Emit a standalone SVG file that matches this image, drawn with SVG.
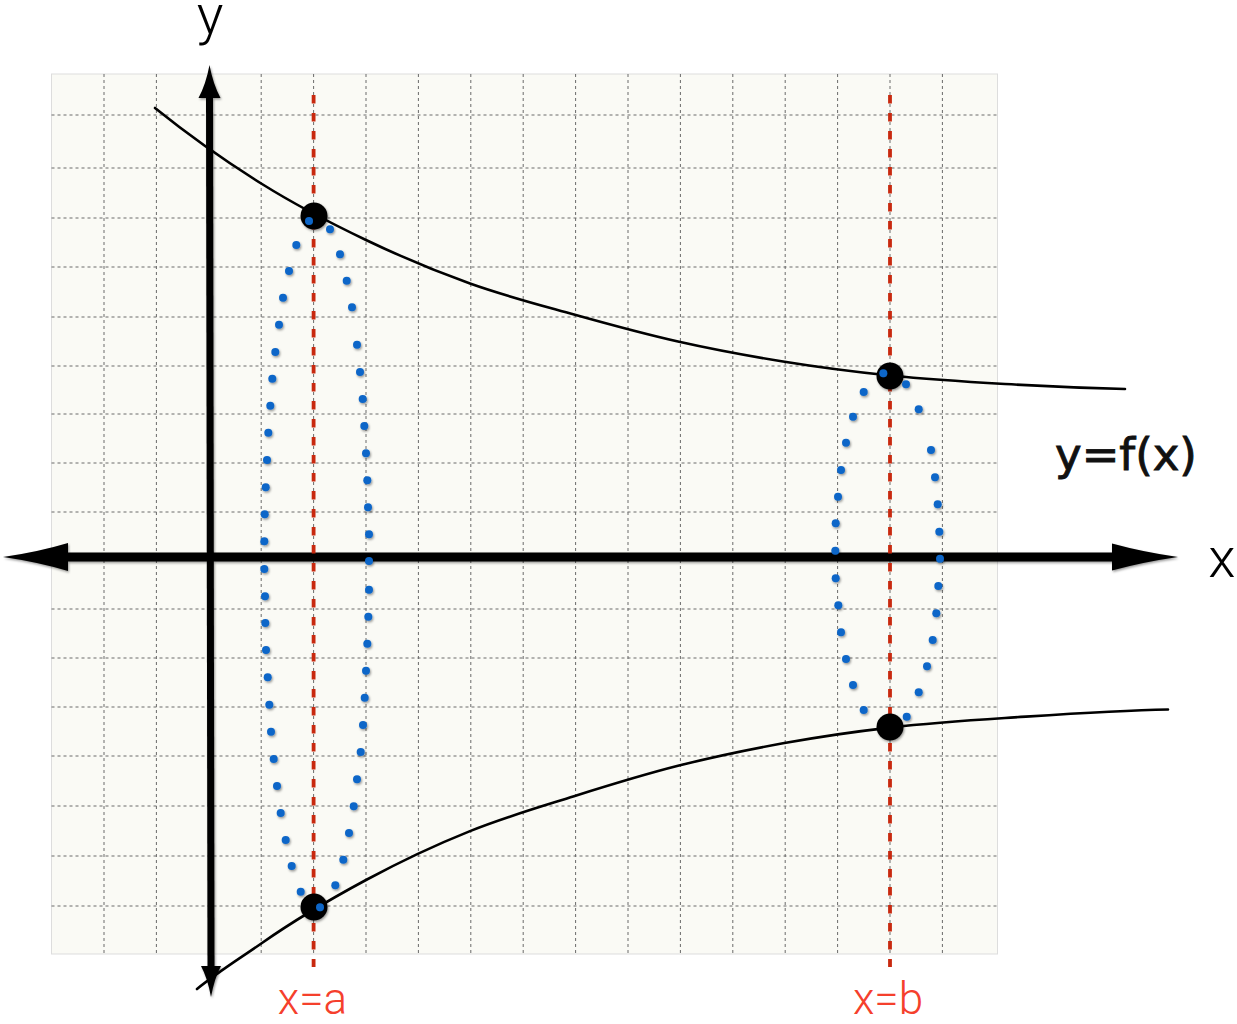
<svg xmlns="http://www.w3.org/2000/svg" width="1237" height="1024" viewBox="0 0 1237 1024">
  <defs>
    <filter id="shadow" x="-20%" y="-20%" width="140%" height="140%">
      <feDropShadow dx="1" dy="1.5" stdDeviation="1.2" flood-color="#000" flood-opacity="0.4"/>
    </filter>
    <style>
      .grid line { stroke: #6a6a6a; stroke-width: 1; stroke-dasharray: 3 3; }
      .red { stroke: #c8290f; stroke-width: 3.8; stroke-dasharray: 8.5 9.5; fill: none; }
      .curve { fill: none; stroke: #000; stroke-width: 2.6; stroke-linecap: round; }
      .axis { stroke: #000; fill: none; }
      .head { fill: #000; }
      .pt { fill: #000; }
      .bd { fill: #0c66c8; }
      .lbl { font-family: Roboto, "Open Sans", "Liberation Sans", sans-serif; font-weight: 300; }
      .redlbl { fill: #f5402c; font-size: 44px; text-anchor: middle; }
      .fx { font-family: "DejaVu Sans", "Liberation Sans", sans-serif; font-size: 45px; fill: #111; stroke: #111; stroke-width: 0.9; }
    </style>
  </defs>

  <rect width="1237" height="1024" fill="#ffffff"/>

  <g id="grid-paper">
    <rect x="51.5" y="74" width="946" height="880" fill="#fafaf5" stroke="#dddddd" stroke-width="1"/>
    <g class="grid">
      <line x1="104" y1="74" x2="104" y2="954"/>
      <line x1="156.4" y1="74" x2="156.4" y2="954"/>
      <line x1="208.8" y1="74" x2="208.8" y2="954"/>
      <line x1="261.2" y1="74" x2="261.2" y2="954"/>
      <line x1="313.6" y1="74" x2="313.6" y2="954"/>
      <line x1="366" y1="74" x2="366" y2="954"/>
      <line x1="418.4" y1="74" x2="418.4" y2="954"/>
      <line x1="470.8" y1="74" x2="470.8" y2="954"/>
      <line x1="523.2" y1="74" x2="523.2" y2="954"/>
      <line x1="575.6" y1="74" x2="575.6" y2="954"/>
      <line x1="628" y1="74" x2="628" y2="954"/>
      <line x1="680.4" y1="74" x2="680.4" y2="954"/>
      <line x1="732.8" y1="74" x2="732.8" y2="954"/>
      <line x1="785.2" y1="74" x2="785.2" y2="954"/>
      <line x1="837.6" y1="74" x2="837.6" y2="954"/>
      <line x1="890" y1="74" x2="890" y2="954"/>
      <line x1="942.4" y1="74" x2="942.4" y2="954"/>
      <line x1="51.5" y1="115" x2="997.5" y2="115"/>
      <line x1="51.5" y1="168" x2="997.5" y2="168"/>
      <line x1="51.5" y1="218" x2="997.5" y2="218"/>
      <line x1="51.5" y1="267" x2="997.5" y2="267"/>
      <line x1="51.5" y1="317" x2="997.5" y2="317"/>
      <line x1="51.5" y1="366" x2="997.5" y2="366"/>
      <line x1="51.5" y1="414" x2="997.5" y2="414"/>
      <line x1="51.5" y1="463" x2="997.5" y2="463"/>
      <line x1="51.5" y1="512" x2="997.5" y2="512"/>
      <line x1="51.5" y1="560" x2="997.5" y2="560"/>
      <line x1="51.5" y1="609" x2="997.5" y2="609"/>
      <line x1="51.5" y1="658" x2="997.5" y2="658"/>
      <line x1="51.5" y1="707" x2="997.5" y2="707"/>
      <line x1="51.5" y1="756" x2="997.5" y2="756"/>
      <line x1="51.5" y1="806" x2="997.5" y2="806"/>
      <line x1="51.5" y1="856" x2="997.5" y2="856"/>
      <line x1="51.5" y1="906" x2="997.5" y2="906"/>
    </g>
  </g>

  <g id="axes" filter="url(#shadow)">
    <g id="x-axis">
      <line class="axis" x1="66" y1="557" x2="1115" y2="557" stroke-width="9"/>
      <path class="head" d="M3,557 Q38,552 68,543 L68,571 Q38,562 3,557 Z"/>
      <path class="head" d="M1178,557 Q1143,552 1112,543.5 L1112,570.5 Q1143,562 1178,557 Z"/>
    </g>
    <g id="y-axis">
      <line class="axis" x1="209.5" y1="94" x2="211" y2="969" stroke-width="7"/>
      <path class="head" d="M209.5,65 Q213,84 220.5,98 L198.5,98 Q206,84 209.5,65 Z"/>
      <path class="head" d="M211,997 Q207.5,978 201,966 L221,966 Q214.5,978 211,997 Z"/>
    </g>
  </g>

  <g id="curves">
    <path id="curve-upper" class="curve" d="M155,108 C191,137 226.8,162 262,184 C297.2,206 331.3,223.4 366,240 C400.7,256.6 435.3,271.1 470,283.5 C504.7,295.9 539.3,304.8 574,314.5 C608.7,324.2 643.2,333.7 678,341.5 C712.8,349.3 747.7,355.8 783,361.5 C818.3,367.2 853,371.75 890,375.5 C927,379.25 965.8,381.75 1005,384 C1044.2,386.25 1085,388 1125,389"/>
    <path id="curve-lower" class="curve" d="M197,989 C218.7,971.4 240.3,958.2 262,943 C297.2,918.25 331.3,898.7 366,880 C400.7,861.3 435.3,845 470,831.1 C504.7,817.1 539.3,807.1 574,796.2 C608.7,785.3 643.2,774.6 678,765.8 C712.8,757 747.7,749.7 783,743.3 C818.3,736.9 853,731.8 890,727.6 C927,723.3 965.8,720.5 1005,718 C1059,714.5 1114,710.5 1168,709.5"/>
  </g>

  <g id="bounds">
    <line id="line-a" class="red" x1="313.6" y1="95" x2="313.6" y2="967"/>
    <line id="line-b" class="red" x1="890" y1="95" x2="890" y2="967"/>
  </g>

  <g id="points" filter="url(#shadow)">
    <circle id="pt-a-top" class="pt" cx="314" cy="216" r="13.5"/>
    <circle id="pt-b-top" class="pt" cx="890" cy="376" r="13.5"/>
    <circle id="pt-a-bottom" class="pt" cx="314" cy="907" r="13.5"/>
    <circle id="pt-b-bottom" class="pt" cx="890" cy="727" r="13.5"/>
  </g>

  <g id="section-a" filter="url(#shadow)">
    <circle class="bd" cx="309" cy="221" r="4"/>
    <circle class="bd" cx="330" cy="229.3" r="4"/>
    <circle class="bd" cx="340" cy="254.3" r="4"/>
    <circle class="bd" cx="346.7" cy="280.7" r="4"/>
    <circle class="bd" cx="352" cy="307.3" r="4"/>
    <circle class="bd" cx="357" cy="344.7" r="4"/>
    <circle class="bd" cx="360" cy="372" r="4"/>
    <circle class="bd" cx="362.7" cy="399" r="4"/>
    <circle class="bd" cx="364.3" cy="426" r="4"/>
    <circle class="bd" cx="366" cy="453.3" r="4"/>
    <circle class="bd" cx="367.3" cy="480.3" r="4"/>
    <circle class="bd" cx="368" cy="507.3" r="4"/>
    <circle class="bd" cx="369" cy="534.3" r="4"/>
    <circle class="bd" cx="369" cy="561" r="4"/>
    <circle class="bd" cx="369" cy="589.7" r="4"/>
    <circle class="bd" cx="368.3" cy="616.7" r="4"/>
    <circle class="bd" cx="367.3" cy="643.7" r="4"/>
    <circle class="bd" cx="366" cy="670.7" r="4"/>
    <circle class="bd" cx="364.7" cy="697.7" r="4"/>
    <circle class="bd" cx="363" cy="725" r="4"/>
    <circle class="bd" cx="360.7" cy="752" r="4"/>
    <circle class="bd" cx="357" cy="779.3" r="4"/>
    <circle class="bd" cx="353.7" cy="806.3" r="4"/>
    <circle class="bd" cx="349" cy="833" r="4"/>
    <circle class="bd" cx="343.3" cy="859.7" r="4"/>
    <circle class="bd" cx="335.3" cy="885.3" r="4"/>
    <circle class="bd" cx="320" cy="907.3" r="4"/>
    <circle class="bd" cx="296.3" cy="245" r="4"/>
    <circle class="bd" cx="289" cy="271" r="4"/>
    <circle class="bd" cx="283" cy="297.7" r="4"/>
    <circle class="bd" cx="279" cy="324.7" r="4"/>
    <circle class="bd" cx="275.3" cy="352" r="4"/>
    <circle class="bd" cx="272.3" cy="378.7" r="4"/>
    <circle class="bd" cx="270.3" cy="405.7" r="4"/>
    <circle class="bd" cx="268.3" cy="432.7" r="4"/>
    <circle class="bd" cx="267" cy="460" r="4"/>
    <circle class="bd" cx="265.7" cy="487.3" r="4"/>
    <circle class="bd" cx="264.7" cy="514.3" r="4"/>
    <circle class="bd" cx="264.3" cy="541.3" r="4"/>
    <circle class="bd" cx="264.3" cy="569" r="4"/>
    <circle class="bd" cx="265" cy="596.3" r="4"/>
    <circle class="bd" cx="265.3" cy="623" r="4"/>
    <circle class="bd" cx="266" cy="650" r="4"/>
    <circle class="bd" cx="267.7" cy="677.3" r="4"/>
    <circle class="bd" cx="269.3" cy="704.7" r="4"/>
    <circle class="bd" cx="271" cy="731.7" r="4"/>
    <circle class="bd" cx="273.7" cy="759" r="4"/>
    <circle class="bd" cx="277" cy="786" r="4"/>
    <circle class="bd" cx="280.7" cy="813" r="4"/>
    <circle class="bd" cx="285.7" cy="840" r="4"/>
    <circle class="bd" cx="291.7" cy="866" r="4"/>
    <circle class="bd" cx="300.7" cy="891.7" r="4"/>
  </g>

  <g id="section-b" filter="url(#shadow)">
    <circle class="bd" cx="883.3" cy="373.3" r="4"/>
    <circle class="bd" cx="906" cy="384.3" r="4"/>
    <circle class="bd" cx="918.7" cy="409.3" r="4"/>
    <circle class="bd" cx="931" cy="450" r="4"/>
    <circle class="bd" cx="935" cy="477.3" r="4"/>
    <circle class="bd" cx="937.7" cy="504.3" r="4"/>
    <circle class="bd" cx="939.3" cy="531.7" r="4"/>
    <circle class="bd" cx="940" cy="558.7" r="4"/>
    <circle class="bd" cx="938.3" cy="586" r="4"/>
    <circle class="bd" cx="936.3" cy="613.3" r="4"/>
    <circle class="bd" cx="932.7" cy="640" r="4"/>
    <circle class="bd" cx="927" cy="666.3" r="4"/>
    <circle class="bd" cx="918.7" cy="692.3" r="4"/>
    <circle class="bd" cx="906.7" cy="716.7" r="4"/>
    <circle class="bd" cx="863.7" cy="392" r="4"/>
    <circle class="bd" cx="853" cy="416.7" r="4"/>
    <circle class="bd" cx="846" cy="442.7" r="4"/>
    <circle class="bd" cx="841" cy="470" r="4"/>
    <circle class="bd" cx="838" cy="496.7" r="4"/>
    <circle class="bd" cx="835.7" cy="523.3" r="4"/>
    <circle class="bd" cx="835.3" cy="550.7" r="4"/>
    <circle class="bd" cx="835.7" cy="578.3" r="4"/>
    <circle class="bd" cx="838.3" cy="605.3" r="4"/>
    <circle class="bd" cx="841" cy="632.3" r="4"/>
    <circle class="bd" cx="846" cy="659" r="4"/>
    <circle class="bd" cx="853" cy="685" r="4"/>
    <circle class="bd" cx="863.7" cy="710" r="4"/>
  </g>

  <g id="labels">
    <text id="label-y" class="lbl" x="210" y="34" font-size="56" text-anchor="middle" fill="#000">y</text>
    <text id="label-x" class="lbl" x="1222" y="577" font-size="56" text-anchor="middle" fill="#000">x</text>
    <text id="label-fx" class="fx" x="1055" y="470">y=f(x)</text>
    <text id="label-a" class="lbl redlbl" x="312.5" y="1014">x=a</text>
    <text id="label-b" class="lbl redlbl" x="888" y="1014">x=b</text>
  </g>
</svg>
